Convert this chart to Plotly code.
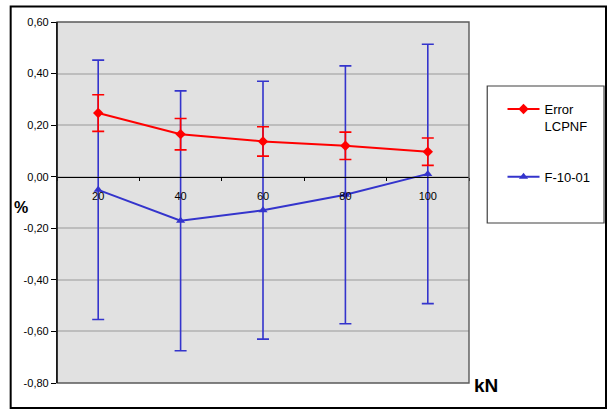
import plotly.graph_objects as go

# Load levels (kN) and measured deviations (%)
categories = ["20", "40", "60", "80", "100"]
lcpnf_values = [0.247, 0.165, 0.137, 0.120, 0.097]
lcpnf_errors = [0.071, 0.061, 0.057, 0.053, 0.053]
f1001_values = [-0.051, -0.171, -0.130, -0.070, 0.011]
f1001_errors = [0.503, 0.504, 0.500, 0.500, 0.503]

ytick_vals = [-0.8, -0.6, -0.4, -0.2, 0.0, 0.2, 0.4, 0.6]
ytick_text = ["-0,80", "-0,60", "-0,40", "-0,20", "0,00", "0,20", "0,40", "0,60"]

RED = "#FF0000"
BLUE = "#3434CC"
FONT = "Liberation Sans, Arial, sans-serif"

Y_MIN, Y_MAX = -0.8, 0.6

fig = go.Figure()

fig.add_trace(go.Scatter(
    x=categories, y=f1001_values, name="F-10-01",
    mode="lines+markers", legendgroup="b", legendrank=2,
    line=dict(color=BLUE, width=2),
    marker=dict(symbol="triangle-up", size=8, color=BLUE),
    error_y=dict(type="data", array=f1001_errors, color=BLUE,
                 thickness=1.6, width=6),
))

fig.add_trace(go.Scatter(
    x=categories, y=lcpnf_values, name="Error<br>LCPNF",
    mode="lines+markers", legendgroup="a", legendrank=1,
    line=dict(color=RED, width=2),
    marker=dict(symbol="diamond", size=8, color=RED),
    error_y=dict(type="data", array=lcpnf_errors, color=RED,
                 thickness=1.6, width=6),
))

# plot area spans 57..475 px horizontally, 22..383 px vertically
L, R, T, B = 57, 475, 22, 383
W, H = 607, 412
pw, ph = R - L, B - T


def px_x(px):
    return (px - L) / pw


def px_y(py):
    return (B - py) / ph


zero_pos = (0 - Y_MIN) / (Y_MAX - Y_MIN)

fig.update_layout(
    width=W, height=H,
    margin=dict(l=L, r=W - R, t=T, b=H - B, pad=0),
    paper_bgcolor="white",
    plot_bgcolor="#E1E1E1",
    font=dict(family=FONT, size=11, color="black"),
    showlegend=True,
    legend=dict(
        x=px_x(509), y=px_y(94), xanchor="left", yanchor="top",
        bgcolor="rgba(0,0,0,0)", borderwidth=0,
        font=dict(family=FONT, size=13, color="black"),
        traceorder="grouped", tracegroupgap=31, valign="top",
        itemwidth=32,
    ),
    xaxis=dict(
        type="category", anchor="free", position=zero_pos,
        showline=True, linecolor="black", linewidth=1.2,
        ticks="outside", tickson="boundaries", ticklen=3,
        tickcolor="black", tickwidth=1, ticklabelstandoff=9,
        showgrid=False, zeroline=False,
        tickfont=dict(family=FONT, size=11, color="black"),
        range=[-0.5, 4.5],
    ),
    yaxis=dict(
        range=[Y_MIN, Y_MAX],
        tickvals=ytick_vals, ticktext=ytick_text,
        showline=True, linecolor="black", linewidth=1.2,
        ticks="outside", ticklen=5, tickcolor="black",
        showgrid=True, gridcolor="#BDBDBD", gridwidth=1.6,
        zeroline=False,
        tickfont=dict(family=FONT, size=11, color="black"),
    ),
)

# plot-area frame (top, right, bottom)
fig.add_shape(type="rect", xref="paper", yref="paper",
              x0=0, x1=1, y0=0, y1=1,
              line=dict(color="#5A5A5A", width=1.4), layer="above")
# redraw the black value axis over the frame
fig.add_shape(type="line", xref="paper", yref="paper",
              x0=0, x1=0, y0=0, y1=1,
              line=dict(color="black", width=1.2), layer="above")

# legend box
fig.add_shape(type="rect", xref="paper", yref="paper",
              x0=px_x(493.5), x1=px_x(612), y0=px_y(223), y1=px_y(86),
              line=dict(color="#404040", width=1.2))

# outer chart border
fig.add_shape(type="rect", xref="paper", yref="paper",
              x0=px_x(10), x1=px_x(614), y0=px_y(408), y1=px_y(6.5),
              line=dict(color="black", width=2))

# axis titles
fig.add_annotation(text="<b>%</b>", xref="paper", yref="paper",
                   x=px_x(20), y=px_y(207), showarrow=False,
                   xanchor="center", yanchor="middle",
                   font=dict(family=FONT, size=16, color="black"))
fig.add_annotation(text="<b>kN</b>", xref="paper", yref="paper",
                   x=px_x(492), y=px_y(386), showarrow=False,
                   xanchor="center", yanchor="middle",
                   font=dict(family=FONT, size=19, color="black"))

fig.write_html("out.html")
